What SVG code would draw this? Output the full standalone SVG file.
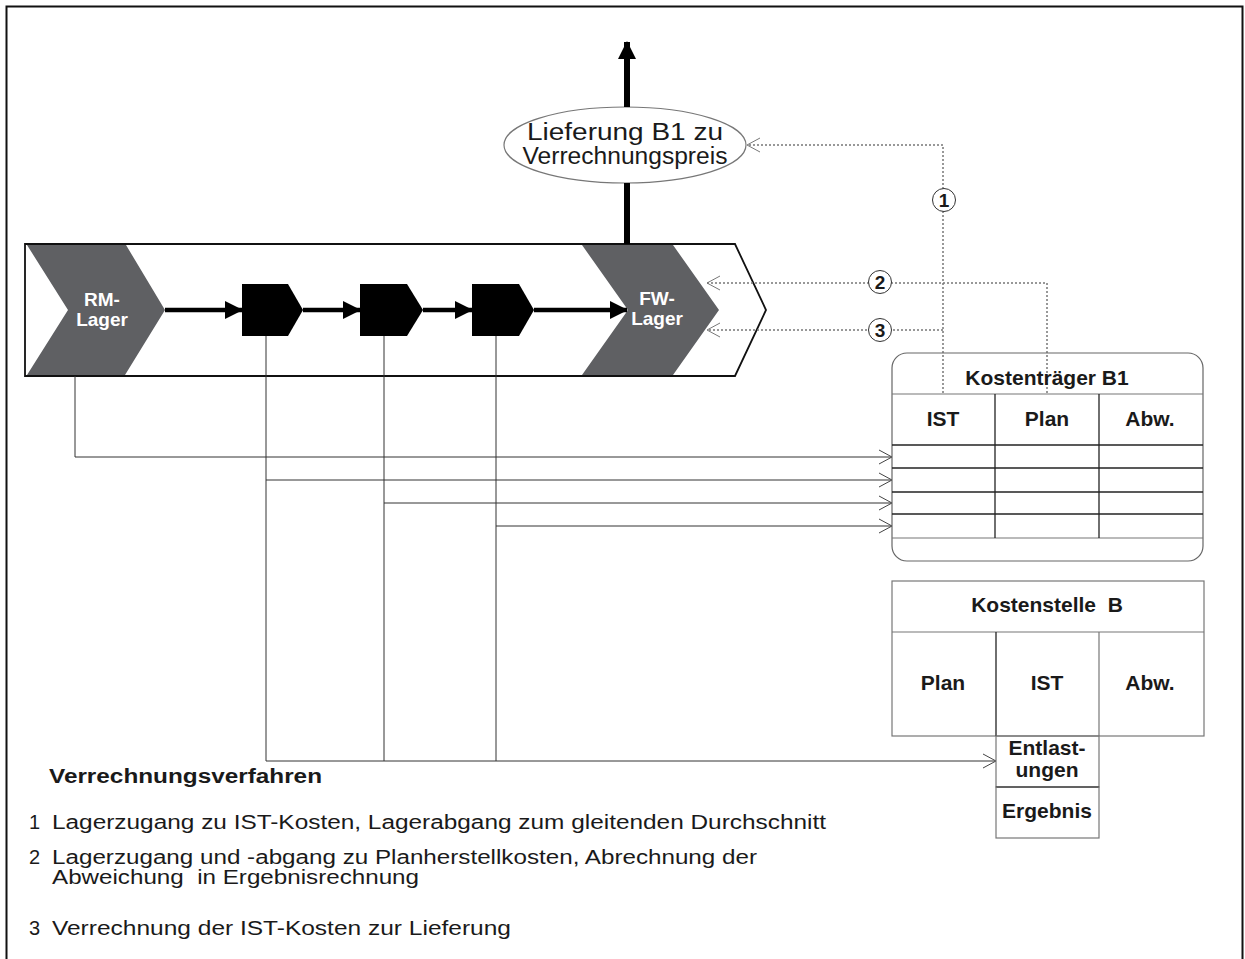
<svg xmlns="http://www.w3.org/2000/svg" width="1245" height="959" viewBox="0 0 1245 959">
<style>
text{font-family:"Liberation Sans",Arial,Helvetica,sans-serif;fill:#1a1a1a}
.b{font-weight:bold}
.w{fill:#ffffff;font-weight:bold;font-size:19px}
.thin{fill:none;stroke:#333;stroke-width:1}
.grid{fill:none;stroke:#222;stroke-width:1.3}
.gline{fill:none;stroke:#777;stroke-width:1.2}
.dot{fill:none;stroke:#777;stroke-width:1.5;stroke-dasharray:2 2}
.grey{fill:#5f6063}
.blk{fill:#000}
.num{font-weight:bold;font-size:19px;text-anchor:middle}
.cell{font-weight:bold;font-size:21px;text-anchor:middle}
.body{font-size:20px}
</style>
<defs>
<marker id="openArrow" viewBox="0 0 14 16" refX="13" refY="8" markerWidth="14" markerHeight="16" markerUnits="userSpaceOnUse" orient="auto">
<path d="M0,1 L13,8 L0,15" fill="none" stroke="#444" stroke-width="1"/>
</marker>
<marker id="dotArrow" viewBox="0 0 14 16" refX="13" refY="8" markerWidth="14" markerHeight="16" markerUnits="userSpaceOnUse" orient="auto">
<path d="M0,1 L13,8 L0,15" fill="none" stroke="#777" stroke-width="1"/>
</marker>
<marker id="bigArrow" viewBox="0 0 18 18" refX="17" refY="9" markerWidth="18" markerHeight="18" markerUnits="userSpaceOnUse" orient="auto">
<path d="M0,0 L18,9 L0,18 Z" fill="#000"/>
</marker>
</defs>

<rect width="1245" height="959" fill="#fff"/>
<path d="M6.5,962 V6.5 H1242.5 V962" fill="none" stroke="#111" stroke-width="2"/>

<g id="process-band">
<path d="M25,244 H735 L766,310 L735,376 H25 Z" fill="#fff" stroke="#111" stroke-width="1.8"/>
</g>
<g id="rm-lager">
<path class="grey" d="M27,245 H126 L165,310 L125,375 H27 L68,310 Z"/>
<text class="w" x="102" y="306" text-anchor="middle">RM-</text>
<text class="w" x="102" y="326" text-anchor="middle">Lager</text>
</g>
<g id="fw-lager">
<path class="grey" d="M582,245 H673 L719,310 L673,375 H582 L628,310 Z"/>
<text class="w" x="657" y="305" text-anchor="middle">FW-</text>
<text class="w" x="657" y="325" text-anchor="middle">Lager</text>
</g>
<g id="step1"><path class="blk" d="M242,284 H288 L303,310 L288,336 H242 Z"/></g>
<g id="step2"><path class="blk" d="M360,284 H407 L423,310 L407,336 H360 Z"/></g>
<g id="step3"><path class="blk" d="M472,284 H519 L534,310 L519,336 H472 Z"/></g>

<g id="lieferung">
<ellipse cx="625" cy="145" rx="121" ry="38" fill="#fff" stroke="#777" stroke-width="1.2"/>
<text x="625" y="140" font-size="23" text-anchor="middle" textLength="196" lengthAdjust="spacingAndGlyphs">Lieferung B1 zu</text>
<text x="625" y="164" font-size="23" text-anchor="middle" textLength="205" lengthAdjust="spacingAndGlyphs">Verrechnungspreis</text>
</g>

<g id="connectors">
<line x1="165" y1="310" x2="242" y2="310" stroke="#000" stroke-width="4.5" marker-end="url(#bigArrow)"/>
<line x1="303" y1="310" x2="360" y2="310" stroke="#000" stroke-width="4.5" marker-end="url(#bigArrow)"/>
<line x1="423" y1="310" x2="472" y2="310" stroke="#000" stroke-width="4.5" marker-end="url(#bigArrow)"/>
<line x1="534" y1="310" x2="627" y2="310" stroke="#000" stroke-width="4.5" marker-end="url(#bigArrow)"/>
<line x1="627" y1="244" x2="627" y2="183" stroke="#000" stroke-width="6"/>
<line x1="627" y1="107" x2="627" y2="42" stroke="#000" stroke-width="6" marker-end="url(#bigArrow)"/>

<polyline class="thin" points="75,376 75,457 892,457" marker-end="url(#openArrow)"/>
<polyline class="thin" points="266,336 266,480 892,480" marker-end="url(#openArrow)"/>
<polyline class="thin" points="384,336 384,503 892,503" marker-end="url(#openArrow)"/>
<polyline class="thin" points="496,336 496,526 892,526" marker-end="url(#openArrow)"/>
<line class="thin" x1="266" y1="480" x2="266" y2="761"/>
<line class="thin" x1="384" y1="503" x2="384" y2="761"/>
<line class="thin" x1="496" y1="526" x2="496" y2="761"/>
<line class="thin" x1="266" y1="761" x2="996" y2="761" marker-end="url(#openArrow)"/>

<polyline class="dot" points="943,393 943,145 747,145" marker-end="url(#dotArrow)"/>
<polyline class="dot" points="1047,393 1047,283 707,283" marker-end="url(#dotArrow)"/>
<polyline class="dot" points="943,330 707,330" marker-end="url(#dotArrow)"/>
</g>

<g id="badge1">
<circle cx="944" cy="200" r="11.5" fill="#fff" stroke="#333" stroke-width="1"/>
<text class="num" x="944" y="207">1</text>
</g>
<g id="badge2">
<circle cx="880" cy="282" r="11.5" fill="#fff" stroke="#333" stroke-width="1"/>
<text class="num" x="880" y="289">2</text>
</g>
<g id="badge3">
<circle cx="880" cy="330" r="11.5" fill="#fff" stroke="#333" stroke-width="1"/>
<text class="num" x="880" y="337">3</text>
</g>

<g id="kostentraeger">
<rect x="892" y="353" width="311" height="208" rx="15" ry="15" fill="none" stroke="#666" stroke-width="1.2"/>
<line class="gline" x1="892" y1="394" x2="1203" y2="394"/>
<line class="grid" x1="892" y1="445" x2="1203" y2="445"/>
<line class="grid" x1="892" y1="468" x2="1203" y2="468"/>
<line class="grid" x1="892" y1="492" x2="1203" y2="492"/>
<line class="grid" x1="892" y1="514" x2="1203" y2="514"/>
<line class="gline" x1="892" y1="538" x2="1203" y2="538"/>
<line class="grid" x1="995" y1="394" x2="995" y2="538"/>
<line class="grid" x1="1099" y1="394" x2="1099" y2="538"/>
<text class="cell" x="1047" y="385">Kostenträger B1</text>
<text class="cell" x="943" y="426">IST</text>
<text class="cell" x="1047" y="426">Plan</text>
<text class="cell" x="1150" y="426">Abw.</text>
</g>

<g id="kostenstelle">
<rect x="892" y="581" width="312" height="155" fill="none" stroke="#777" stroke-width="1.2"/>
<line class="gline" x1="892" y1="632" x2="1204" y2="632"/>
<line class="grid" x1="996" y1="632" x2="996" y2="736"/>
<line class="gline" x1="1099" y1="632" x2="1099" y2="736"/>
<text class="cell" x="1047" y="612" font-size="20" xml:space="preserve">Kostenstelle  B</text>
<text class="cell" x="943" y="690">Plan</text>
<text class="cell" x="1047" y="690">IST</text>
<text class="cell" x="1150" y="690">Abw.</text>
</g>
<g id="entlastungen">
<rect x="996" y="736" width="103" height="51" fill="none" stroke="#777" stroke-width="1.2"/>
<line class="grid" x1="996" y1="787" x2="1099" y2="787"/>
<text class="cell" x="1047" y="755" font-size="18">Entlast-</text>
<text class="cell" x="1047" y="777" font-size="18">ungen</text>
</g>
<g id="ergebnis">
<rect x="996" y="787" width="103" height="51" fill="none" stroke="#777" stroke-width="1.2"/>
<text class="cell" x="1047" y="818" font-size="18">Ergebnis</text>
</g>

<g id="legend">
<text class="b" x="49" y="783" font-size="20" textLength="273" lengthAdjust="spacingAndGlyphs">Verrechnungsverfahren</text>
<text class="body" x="29" y="829">1</text>
<text class="body" x="52" y="829" textLength="774" lengthAdjust="spacingAndGlyphs">Lagerzugang zu IST-Kosten, Lagerabgang zum gleitenden Durchschnitt</text>
<text class="body" x="29" y="864">2</text>
<text class="body" x="52" y="864" textLength="705" lengthAdjust="spacingAndGlyphs">Lagerzugang und -abgang zu Planherstellkosten, Abrechnung der</text>
<text class="body" x="52" y="884" textLength="367" lengthAdjust="spacingAndGlyphs" xml:space="preserve">Abweichung  in Ergebnisrechnung</text>
<text class="body" x="29" y="935">3</text>
<text class="body" x="52" y="935" textLength="459" lengthAdjust="spacingAndGlyphs">Verrechnung der IST-Kosten zur Lieferung</text>
</g>
</svg>
